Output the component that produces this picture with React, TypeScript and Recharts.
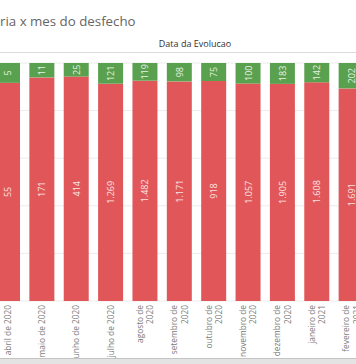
import React from "react";
import { BarChart, Bar, XAxis, YAxis, CartesianGrid, LabelList } from "recharts";

const months = [
  "abril de 2020",
  "maio de 2020",
  "junho de 2020",
  "julho de 2020",
  "agosto de|2020",
  "setembro de|2020",
  "outubro de|2020",
  "novembro de|2020",
  "dezembro de|2020",
  "janeiro de|2021",
  "fevereiro de|2021",
];
const redValues = [55, 171, 414, 1269, 1482, 1171, 918, 1057, 1905, 1608, 1691];
const greenValues = [5, 11, 25, 121, 119, 98, 75, 100, 183, 142, 202];

const data = months.map((m, i) => ({ mes: m, vermelho: redValues[i], verde: greenValues[i] }));

const fmt = (v: number) => {
  const s = String(Math.round(v));
  return s.replace(/\B(?=(\d{3})+(?!\d))/g, ".");
};

const FONT = "'Open Sans', 'Noto Sans', Arial, sans-serif";

const SegLabel = (props: any) => {
  const { x, y, width, height, value, fill } = props;
  const cx = Number(x) + Number(width) / 2;
  const cy = Number(y) + Number(height) / 2;
  return (
    <text
      x={cx}
      y={cy}
      transform={`rotate(-90, ${cx}, ${cy})`}
      textAnchor="middle"
      dominantBaseline="central"
      fontSize={9}
      fontFamily={FONT}
      fill={fill}
    >
      {fmt(value)}
    </text>
  );
};

const MonthTick = (props: any) => {
  const { x, y, payload } = props;
  const lines = String(payload.value).split("|");
  const lh = 10.5;
  const off = -((lines.length - 1) * lh) / 2;
  return (
    <g transform={`translate(${x},${y})`}>
      <text
        transform="rotate(-90)"
        textAnchor="end"
        fontSize={8.3}
        fontFamily={FONT}
        fill="#7a7a7a"
      >
        {lines.map((l, i) => (
          <tspan key={i} x={0} y={off + i * lh} dominantBaseline="central">
            {l}
          </tspan>
        ))}
      </text>
    </g>
  );
};

export default function App() {
  return (
    <div
      style={{
        position: "absolute",
        left: 0,
        top: 0,
        width: 356,
        height: 364,
        overflow: "hidden",
        background: "#fff",
      }}
    >
      <div
        style={{
          position: "absolute",
          left: 0,
          top: 12,
          fontFamily: FONT,
          fontSize: 13.3,
          color: "#666",
          whiteSpace: "nowrap",
          lineHeight: "18px",
        }}
      >
        ria x mes do desfecho
      </div>
      <div
        style={{
          position: "absolute",
          left: 0,
          width: 390,
          top: 38,
          textAlign: "center",
          fontFamily: FONT,
          fontSize: 9,
          color: "#333",
          lineHeight: "12px",
        }}
      >
        Data da Evolucao
      </div>
      <div
        style={{
          position: "absolute",
          left: 0,
          top: 52,
          width: 356,
          height: 1,
          background: "#dcdcdc",
        }}
      />
      <div style={{ position: "absolute", left: -10, top: 0 }}>
        <BarChart
          width={378}
          height={364}
          data={data}
          stackOffset="expand"
          margin={{ top: 63, right: 0, bottom: 0, left: 0 }}
        >
          <CartesianGrid vertical={false} stroke="#ececec" />
          <YAxis hide domain={[0, 1]} ticks={[0.2, 0.4, 0.6, 0.8]} />
          <XAxis
            dataKey="mes"
            height={63}
            axisLine={false}
            tickLine={false}
            tickSize={0}
            tickMargin={4}
            interval={0}
            tick={<MonthTick />}
          />
          <Bar dataKey="vermelho" stackId="a" fill="#e15759" barSize={25} isAnimationActive={false}>
            <LabelList dataKey="vermelho" content={(p: any) => <SegLabel {...p} fill="#fbe3e3" />} />
          </Bar>
          <Bar dataKey="verde" stackId="a" fill="#59a14f" barSize={25} isAnimationActive={false}>
            <LabelList dataKey="verde" content={(p: any) => <SegLabel {...p} fill="#e6f2e4" />} />
          </Bar>
        </BarChart>
      </div>
      <div
        style={{
          position: "absolute",
          left: 0,
          top: 358,
          width: 356,
          height: 6,
          background: "#e3e3e3",
          borderTop: "1px solid #c4c4c4",
        }}
      />
    </div>
  );
}
